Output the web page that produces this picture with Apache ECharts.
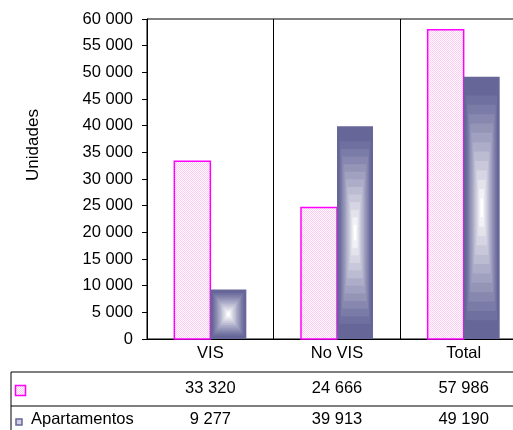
<!DOCTYPE html>
<html>
<head>
<meta charset="utf-8">
<script src="https://cdn.jsdelivr.net/npm/echarts@6/dist/echarts.min.js"></script>
<style>
    html, body { margin: 0; padding: 0; background: #fff; }
    #chart { width: 513px; height: 430px; }
</style>
</head>
<body>
<div id="chart"></div>
<script>
    // data
    const categories = ['VIS', 'No VIS', 'Total']
    const rosa = [33320, 24666, 57986]          // first series (no name in the table)
    const apartamentos = [9277, 39913, 49190]
    const yMin = 0, yMax = 60000, yStep = 5000

    const BW = 36        // bar width px
    const FS = 16.5
    const FONT = '"Liberation Sans", Arial, sans-serif'
    const DARK = [102, 102, 153]

    const fmt = v => String(v).replace(/\B(?=(\d{3})+(?!\d))/g, ' ')

    // little checker pattern for the pink bars
    const pat = document.createElement('canvas')
    pat.width = 2; pat.height = 2
    const g = pat.getContext('2d')
    g.fillStyle = '#ffffff'; g.fillRect(0, 0, 2, 2)
    g.fillStyle = '#ffc8f3'; g.fillRect(0, 0, 1, 1); g.fillRect(1, 1, 1, 1)
    const pinkFill = { image: pat, repeat: 'repeat' }

    function mix(k) {
        const c = DARK.map(d => Math.round(d + (255 - d) * k))
        return 'rgb(' + c.join(',') + ')'
    }

    function barBox(api) {
        const top = api.coord([api.value(0), api.value(1)])
        const base = api.coord([api.value(0), 0])
        return { cx: top[0], y: top[1], h: base[1] - top[1] }
    }

    const chart = echarts.init(document.getElementById('chart'))

    const txt = { fontFamily: FONT, fontSize: FS, color: '#000' }

    chart.setOption({
        animation: false,
        grid: {
            left: 147, top: 19, width: 380, bottom: 91,
            outerBoundsMode: 'none',
            show: true, borderColor: '#000', borderWidth: 1
        },
        xAxis: [{
            type: 'category',
            data: categories,
            axisLine: { lineStyle: { color: '#000' } },
            axisTick: { length: 91, interval: 0, lineStyle: { color: '#000' } },
            splitLine: { show: true, interval: 0, lineStyle: { color: '#000' } },
            axisLabel: Object.assign({ margin: 6, interval: 0 }, txt)
        }, {
            type: 'category',
            position: 'bottom',
            data: rosa.map(fmt),
            axisLine: { show: false },
            axisTick: { show: false },
            axisLabel: Object.assign({ margin: 41, interval: 0 }, txt)
        }, {
            type: 'category',
            position: 'bottom',
            data: apartamentos.map(fmt),
            axisLine: { show: false },
            axisTick: { show: false },
            axisLabel: Object.assign({ margin: 72, interval: 0 }, txt)
        }],
        yAxis: {
            type: 'value',
            min: yMin, max: yMax, interval: yStep,
            axisLine: { show: true, lineStyle: { color: '#000' } },
            axisTick: { show: true, length: 5, lineStyle: { color: '#000' } },
            splitLine: { show: false },
            axisLabel: Object.assign({ margin: 14, formatter: fmt }, txt)
        },
        series: [{
            name: '',
            type: 'custom',
            data: rosa.map((v, i) => [i, v]),
            encode: { x: 0, y: 1 },
            renderItem(params, api) {
                const b = barBox(api)
                return {
                    type: 'rect',
                    shape: { x: b.cx - BW, y: b.y, width: BW, height: b.h },
                    style: { fill: pinkFill, stroke: '#ff00ff', lineWidth: 1.5 }
                }
            }
        }, {
            name: 'Apartamentos',
            type: 'custom',
            data: apartamentos.map((v, i) => [i, v]),
            encode: { x: 0, y: 1 },
            renderItem(params, api) {
                // nested rects -> "from centre" gradient
                const b = barBox(api)
                const N = 14
                const mx = b.cx + BW / 2, my = b.y + b.h / 2
                const children = []
                for (let i = 0; i < N; i++) {
                    const t = 1 - i / N
                    const k = Math.pow(Math.max(0, (i - 1) / (N - 2)), 1.1)
                    children.push({
                        type: 'rect',
                        shape: { x: mx - BW * t / 2, y: my - b.h * t / 2, width: BW * t, height: b.h * t },
                        style: { fill: mix(k) }
                    })
                }
                return { type: 'group', children }
            }
        }],
        graphic: [
            { type: 'line', shape: { x1: 11, y1: 372, x2: 513, y2: 372 }, style: { stroke: '#000', lineWidth: 1 } },
            { type: 'line', shape: { x1: 11, y1: 406, x2: 513, y2: 406 }, style: { stroke: '#000', lineWidth: 1 } },
            { type: 'line', shape: { x1: 11, y1: 372, x2: 11, y2: 430 }, style: { stroke: '#000', lineWidth: 1 } },
            { type: 'rect', shape: { x: 15.5, y: 385.5, width: 10, height: 10 }, style: { fill: pinkFill, stroke: '#ff00ff', lineWidth: 1.5 } },
            { type: 'rect', shape: { x: 16, y: 419, width: 6, height: 6 }, style: { fill: '#d0d0e4', stroke: '#666699', lineWidth: 1.5 } },
            { type: 'text', left: 31, top: 411, style: { text: 'Apartamentos', font: FS + 'px ' + FONT, fill: '#000' } },
            {
                type: 'text', x: 33, y: 145, rotation: Math.PI / 2,
                style: { text: 'Unidades', font: '17px ' + FONT, fill: '#000', align: 'center', verticalAlign: 'middle' }
            }
        ]
    })
</script>
</body>
</html>
